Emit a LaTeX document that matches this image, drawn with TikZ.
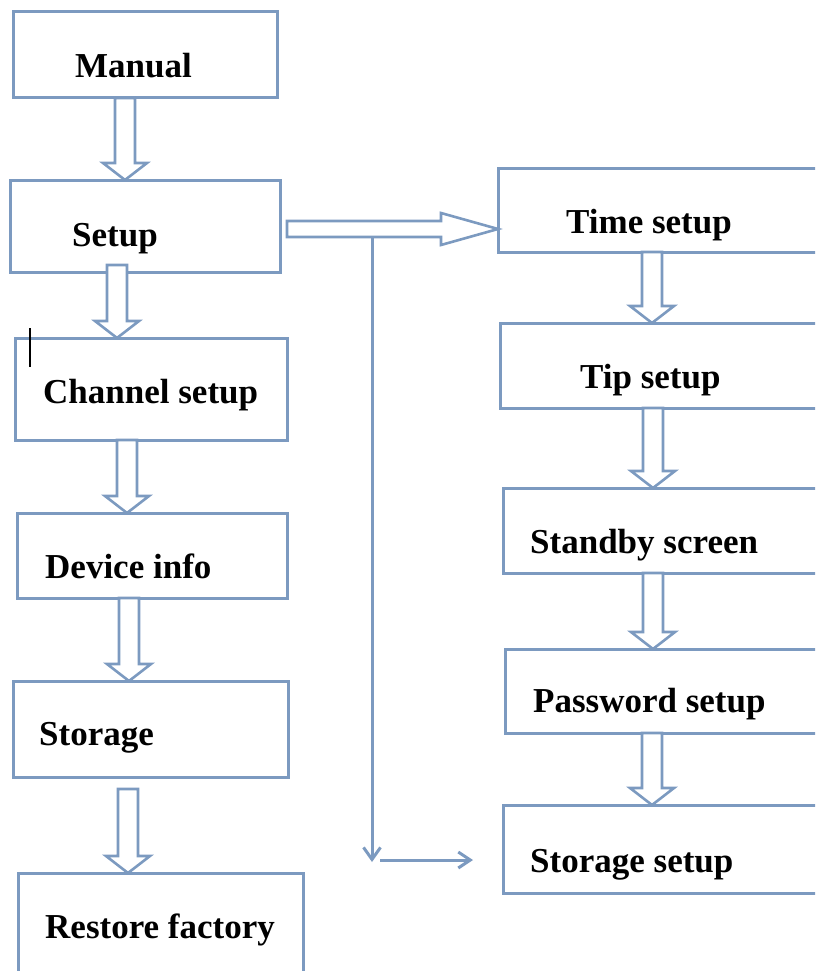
\documentclass[tikz,border=0pt]{standalone}
\usepackage{fontspec}
\setmainfont{Liberation Serif}
\usetikzlibrary{calc,arrows.meta}

% hollow block arrow pointing down: [#1 gap below source], #2 from node, #3 to node, #4 x position
\newcommand\blockdown[4][0]{%
  \draw[blockline] let \p1=(#2.south), \p2=(#3.north) in
    (#4pt-10pt,\y1-#1pt) -- (#4pt+10pt,\y1-#1pt) -- (#4pt+10pt,\y2+17pt) -- (#4pt+22pt,\y2+17pt)
    -- (#4pt,\y2) -- (#4pt-22pt,\y2+17pt) -- (#4pt-10pt,\y2+17pt) -- cycle;}

\begin{document}
\begin{tikzpicture}[x=1pt,y=-1pt,
    box/.style={draw=menuline, line width=3pt, inner sep=0pt, outer sep=0pt},
    boxtext/.style={anchor=base west, inner sep=0pt, font=\fontsize{35}{42}\selectfont\bfseries},
    blockline/.style={draw=menuline, line width=2.6pt, fill=white, line join=miter},
    thinline/.style={draw=menuline, line width=3pt}]
  % Define colors
  \definecolor{menuline}{RGB}{124,154,192}

  \useasboundingbox (0,0) rectangle (815,971);
  \clip (0,0) rectangle (815,971);

  % Left column boxes
  \node[box, minimum width=264pt, minimum height=86pt] (manual) at (145,55) {};
  \node[box, minimum width=270pt, minimum height=92pt] (setup) at (145,226) {};
  \node[box, minimum width=272pt, minimum height=102pt] (channel) at (151,389) {};
  \node[box, minimum width=270pt, minimum height=85pt] (device) at (152,555.5) {};
  \node[box, minimum width=275pt, minimum height=96pt] (storage) at (150.5,729) {};
  \node[box, minimum width=285pt, minimum height=127pt] (restore) at (160.5,936.5) {};

  % Right column boxes (run past the right edge)
  \node[box, minimum width=342pt, minimum height=84pt] (time) at (669,210) {};
  \node[box, minimum width=340pt, minimum height=85pt] (tip) at (670,365.5) {};
  \node[box, minimum width=337pt, minimum height=85pt] (standby) at (671.5,530.5) {};
  \node[box, minimum width=335pt, minimum height=84pt] (password) at (672.5,691) {};
  \node[box, minimum width=337pt, minimum height=88pt] (storagesetup) at (671.5,849) {};

  % Labels
  \node[boxtext] (manualtxt) at (75,78) {Manual};
  \node[boxtext] (setuptxt) at (72,246) {Setup};
  \node[boxtext] (channeltxt) at (43,403) {Channel setup};
  \node[boxtext] (devicetxt) at (45,578) {Device info};
  \node[boxtext] (storagetxt) at (39,745) {Storage};
  \node[boxtext] (restoretxt) at (45,938) {Restore factory};
  \node[boxtext] (timetxt) at (566,233) {Time setup};
  \node[boxtext] (tiptxt) at (580,388) {Tip setup};
  \node[boxtext] (standbytxt) at (530,553) {Standby screen};
  \node[boxtext] (passwordtxt) at (533,712) {Password setup};
  \node[boxtext] (storagesetuptxt) at (530,872) {Storage setup};

  % Hollow arrows, left column
  \blockdown{manual}{setup}{125}
  \blockdown[-7]{setup}{channel}{117}
  \blockdown{channel}{device}{127}
  \blockdown{device}{storage}{129}
  \blockdown[12]{storage}{restore}{128}

  % Hollow arrows, right column
  \blockdown{time}{tip}{652}
  \blockdown{tip}{standby}{653}
  \blockdown{standby}{password}{653}
  \blockdown{password}{storagesetup}{652}

  % Hollow arrow from Setup to Time setup
  \draw[blockline] let \p1=(setup.east), \p2=(time.west) in
    (\x1+7pt,-221pt) -- (\x2-57pt,-221pt) -- (\x2-57pt,-213pt) -- (\x2,-229pt)
    -- (\x2-57pt,-245pt) -- (\x2-57pt,-237pt) -- (\x1+7pt,-237pt) -- cycle;

  % Branch line down to Storage setup
  \coordinate (branchtop) at (372,237);
  \coordinate (branchend) at (372,862);
  \coordinate (sidestart) at (380,860);
  \coordinate (sideend) at (473,860);
  \draw[thinline, -{Straight Barb[length=12pt,width=17pt]}] (branchtop) -- (branchend);
  \draw[thinline, -{Straight Barb[length=12pt,width=16pt]}] (sidestart) -- (sideend);

  % Text cursor mark
  \draw[black, line width=2pt] (30,328) -- (30,367);
\end{tikzpicture}
\end{document}
